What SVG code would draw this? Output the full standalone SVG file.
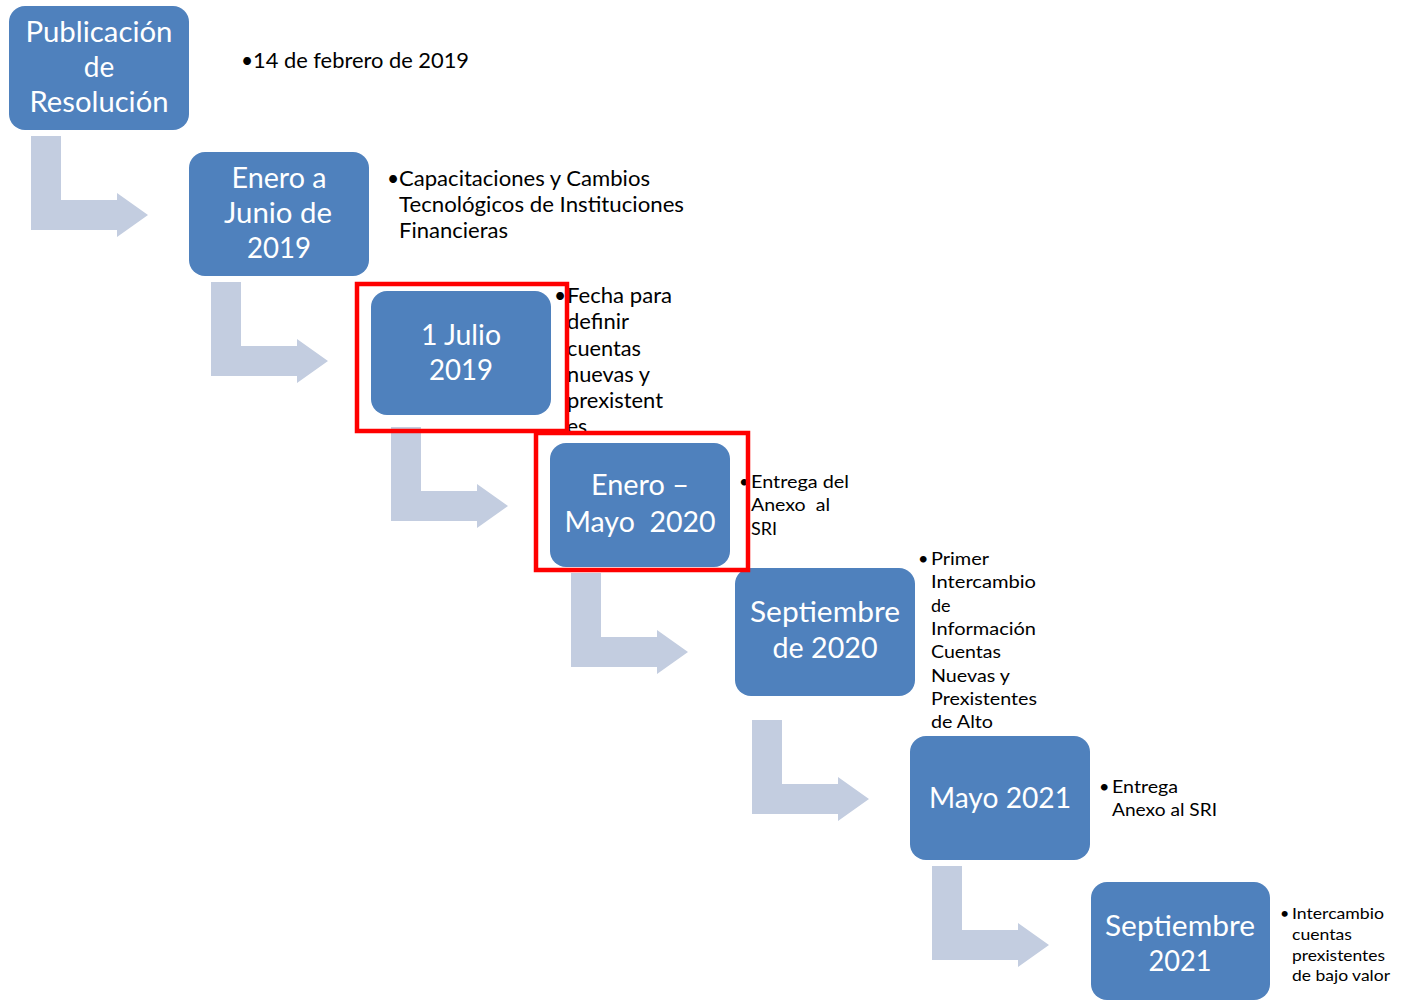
<svg xmlns="http://www.w3.org/2000/svg" xmlns:xlink="http://www.w3.org/1999/xlink" width="1401" height="1000" viewBox="0 0 1401 1000">
<style>
.box{fill:#4f81bd;}
.bt{fill:#ffffff;font-family:Lato,"Liberation Sans",sans-serif;font-size:28px;text-anchor:middle;}
.tx{fill:#000000;font-family:Lato,"Liberation Sans",sans-serif;font-size:21px;}
.tm{fill:#000000;font-family:Lato,"Liberation Sans",sans-serif;font-size:18px;}
.ts{fill:#000000;font-family:Lato,"Liberation Sans",sans-serif;font-size:16px;}
.hl{fill:none;stroke:#ff0000;stroke-width:4.5;}
.arr{fill:#c3cde0;}
</style>
<defs>
<path id="bent" d="M0,0 H30 V64 H86 V57 L117,79 L86,101 V94 H0 Z"/>
</defs>
<rect width="1401" height="1000" fill="#ffffff"/>
<g id="connectors" class="arr">
<use xlink:href="#bent" x="31" y="136"/>
<use xlink:href="#bent" x="211" y="282"/>
<use xlink:href="#bent" x="391" y="427"/>
<use xlink:href="#bent" x="571" y="573"/>
<use xlink:href="#bent" x="752" y="720"/>
<use xlink:href="#bent" x="932" y="866"/>
</g>
<g id="node1">
<rect class="box" x="9" y="6" width="180" height="124" rx="16"/>
<text class="bt" x="99" y="42" textLength="147" lengthAdjust="spacingAndGlyphs">Publicación</text>
<text class="bt" x="99" y="77">de</text>
<text class="bt" x="99" y="112" textLength="139" lengthAdjust="spacingAndGlyphs">Resolución</text>
<text class="tx" x="241" y="68">•</text>
<text class="tx" x="253" y="68" textLength="216" lengthAdjust="spacingAndGlyphs">14 de febrero de 2019</text>
</g>
<g id="node2">
<rect class="box" x="189" y="152" width="180" height="124" rx="16"/>
<text class="bt" x="279" y="188" textLength="95" lengthAdjust="spacingAndGlyphs">Enero a</text>
<text class="bt" x="278" y="223" textLength="108" lengthAdjust="spacingAndGlyphs">Junio de</text>
<text class="bt" x="279" y="258" textLength="64" lengthAdjust="spacingAndGlyphs">2019</text>
<text class="tx" x="387" y="186">•</text>
<text class="tx" x="399" y="186" textLength="251" lengthAdjust="spacingAndGlyphs">Capacitaciones y Cambios</text>
<text class="tx" x="399" y="212" textLength="285" lengthAdjust="spacingAndGlyphs">Tecnológicos de Instituciones</text>
<text class="tx" x="399" y="238" textLength="109" lengthAdjust="spacingAndGlyphs">Financieras</text>
</g>
<g id="node3">
<rect class="box" x="371" y="291" width="180" height="124" rx="16"/>
<text class="bt" x="461" y="345" textLength="80" lengthAdjust="spacingAndGlyphs">1 Julio</text>
<text class="bt" x="461" y="380" textLength="64" lengthAdjust="spacingAndGlyphs">2019</text>
<text class="tx" x="554" y="303">•</text>
<text class="tx" x="567" y="303" textLength="105" lengthAdjust="spacingAndGlyphs">Fecha para</text>
<text class="tx" x="567" y="329" textLength="62" lengthAdjust="spacingAndGlyphs">definir</text>
<text class="tx" x="567" y="356" textLength="74" lengthAdjust="spacingAndGlyphs">cuentas</text>
<text class="tx" x="567" y="382" textLength="83" lengthAdjust="spacingAndGlyphs">nuevas y</text>
<text class="tx" x="567" y="408" textLength="96" lengthAdjust="spacingAndGlyphs">prexistent</text>
<text class="tx" x="567" y="434">es</text>
</g>
<g id="node4">
<rect class="box" x="550" y="443" width="180" height="124" rx="16"/>
<text class="bt" x="640" y="495" textLength="98" lengthAdjust="spacingAndGlyphs">Enero –</text>
<text class="bt" x="640" y="532" textLength="151" lengthAdjust="spacingAndGlyphs" xml:space="preserve">Mayo  2020</text>
<text class="tm" x="739" y="488">•</text>
<text class="tm" x="751" y="488" textLength="98" lengthAdjust="spacingAndGlyphs">Entrega del</text>
<text class="tm" x="751" y="511" textLength="79" lengthAdjust="spacingAndGlyphs" xml:space="preserve">Anexo  al</text>
<text class="tm" x="751" y="535">SRI</text>
</g>
<g id="node5">
<rect class="box" x="735" y="568" width="180" height="128" rx="16"/>
<text class="bt" x="825" y="622" textLength="150" lengthAdjust="spacingAndGlyphs">Septiembre</text>
<text class="bt" x="825" y="658" textLength="105" lengthAdjust="spacingAndGlyphs">de 2020</text>
<text class="tm" x="918" y="565">•</text>
<text class="tm" x="931" y="565" textLength="58" lengthAdjust="spacingAndGlyphs">Primer</text>
<text class="tm" x="931" y="588" textLength="105" lengthAdjust="spacingAndGlyphs">Intercambio</text>
<text class="tm" x="931" y="612">de</text>
<text class="tm" x="931" y="635" textLength="105" lengthAdjust="spacingAndGlyphs">Información</text>
<text class="tm" x="931" y="658" textLength="70" lengthAdjust="spacingAndGlyphs">Cuentas</text>
<text class="tm" x="931" y="682" textLength="79" lengthAdjust="spacingAndGlyphs">Nuevas y</text>
<text class="tm" x="931" y="705" textLength="106" lengthAdjust="spacingAndGlyphs">Prexistentes</text>
<text class="tm" x="931" y="728" textLength="62" lengthAdjust="spacingAndGlyphs">de Alto</text>
</g>
<g id="node6">
<rect class="box" x="910" y="736" width="180" height="124" rx="16"/>
<text class="bt" x="1000" y="808" textLength="142" lengthAdjust="spacingAndGlyphs">Mayo 2021</text>
<text class="tm" x="1099" y="793">•</text>
<text class="tm" x="1112" y="793" textLength="66" lengthAdjust="spacingAndGlyphs">Entrega</text>
<text class="tm" x="1112" y="816" textLength="105" lengthAdjust="spacingAndGlyphs">Anexo al SRI</text>
</g>
<g id="node7">
<rect class="box" x="1091" y="882" width="179" height="118" rx="16"/>
<text class="bt" x="1180" y="936" textLength="150" lengthAdjust="spacingAndGlyphs">Septiembre</text>
<text class="bt" x="1180" y="971" textLength="63" lengthAdjust="spacingAndGlyphs">2021</text>
<text class="ts" x="1280" y="919">•</text>
<text class="ts" x="1292" y="919" textLength="92" lengthAdjust="spacingAndGlyphs">Intercambio</text>
<text class="ts" x="1292" y="940" textLength="60" lengthAdjust="spacingAndGlyphs">cuentas</text>
<text class="ts" x="1292" y="961" textLength="93" lengthAdjust="spacingAndGlyphs">prexistentes</text>
<text class="ts" x="1292" y="981" textLength="98" lengthAdjust="spacingAndGlyphs">de bajo valor</text>
</g>
<g id="highlights">
<rect class="hl" x="357" y="284" width="210" height="147"/>
<rect class="hl" x="536" y="433" width="212" height="137"/>
</g>
</svg>
